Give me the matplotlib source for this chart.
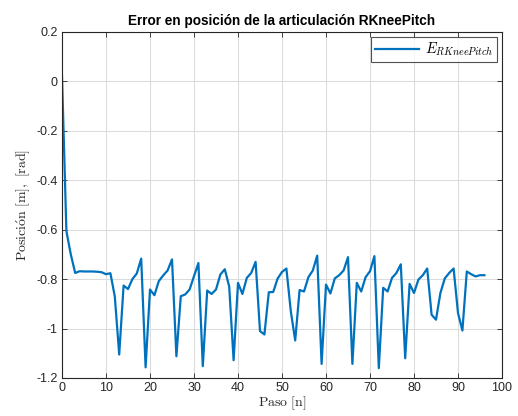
import matplotlib
matplotlib.use("Agg")
import matplotlib.pyplot as plt
import numpy as np

plt.rcParams['mathtext.fontset'] = 'cm'
plt.rcParams['font.family'] = ['Liberation Sans', 'DejaVu Sans']

error = [0.022, -0.606, -0.70, -0.775, -0.768, -0.769, -0.769, -0.769, -0.770, -0.772,
         -0.780, -0.776, -0.870, -1.105, -0.826, -0.840, -0.800, -0.777, -0.717, -1.157,
         -0.842, -0.865, -0.808, -0.785, -0.765, -0.720, -1.112, -0.869, -0.862, -0.842,
         -0.788, -0.735, -1.152, -0.846, -0.860, -0.842, -0.781, -0.760, -0.830, -1.128,
         -0.815, -0.860, -0.795, -0.775, -0.730, -1.010, -1.024, -0.853, -0.852, -0.798,
         -0.771, -0.757, -0.930, -1.048, -0.844, -0.850, -0.792, -0.765, -0.705, -1.143,
         -0.822, -0.858, -0.797, -0.784, -0.765, -0.711, -1.143, -0.815, -0.850, -0.792,
         -0.768, -0.707, -1.160, -0.835, -0.850, -0.795, -0.775, -0.740, -1.120, -0.819,
         -0.856, -0.802, -0.784, -0.757, -0.944, -0.964, -0.856, -0.797, -0.775, -0.757,
         -0.937, -1.008, -0.769, -0.780, -0.789, -0.784, -0.784]
steps = np.arange(len(error))

xticks = [0, 10, 20, 30, 40, 50, 60, 70, 80, 90, 100]
yticks = [0.2, 0, -0.2, -0.4, -0.6, -0.8, -1, -1.2]
ytick_labels = ['0.2', '0', '-0.2', '-0.4', '-0.6', '-0.8', '-1', '-1.2']

fig = plt.figure(figsize=(5.18, 4.16), dpi=100)
ax = fig.add_axes([62/518, 1 - 378/416, 440/518, 346/416])

ax.plot(steps, error, color='#0072BD', linewidth=1.6, label=r'$E_{RKneePitch}$')

ax.set_xlim(0, 100)
ax.set_ylim(-1.2, 0.2)
ax.set_xticks(xticks)
ax.set_xticklabels([str(t) for t in xticks])
ax.set_yticks(yticks)
ax.set_yticklabels(ytick_labels)

ax.grid(True, color='#dcdcdc', linewidth=0.8)
ax.set_axisbelow(True)
for s in ax.spines.values():
    s.set_color('#262626')
    s.set_linewidth(0.8)
ax.tick_params(direction='in', length=3.5, width=0.6, top=True, right=True,
               labelsize=9, colors='#262626', pad=3)

ax.set_title('Error en posición de la articulación RKneePitch', fontsize=9.8,
             fontweight='bold', color='black', pad=5)
ax.set_xlabel(r'$\mathrm{Paso\ [n]}$', fontsize=10, labelpad=0, color='#262626')
ax.set_ylabel(r'$\mathrm{Posici\acute{o}n\ [m],\ [rad]}$', fontsize=10, labelpad=3, color='#262626')

leg = ax.legend(loc='upper right', fontsize=10.5, frameon=True, fancybox=False,
                handlelength=3.0, borderpad=0.25, borderaxespad=0.35, handletextpad=0.4)
leg.get_frame().set_edgecolor('#262626')
leg.get_frame().set_linewidth(0.8)

fig.savefig('out.png', dpi=100)
